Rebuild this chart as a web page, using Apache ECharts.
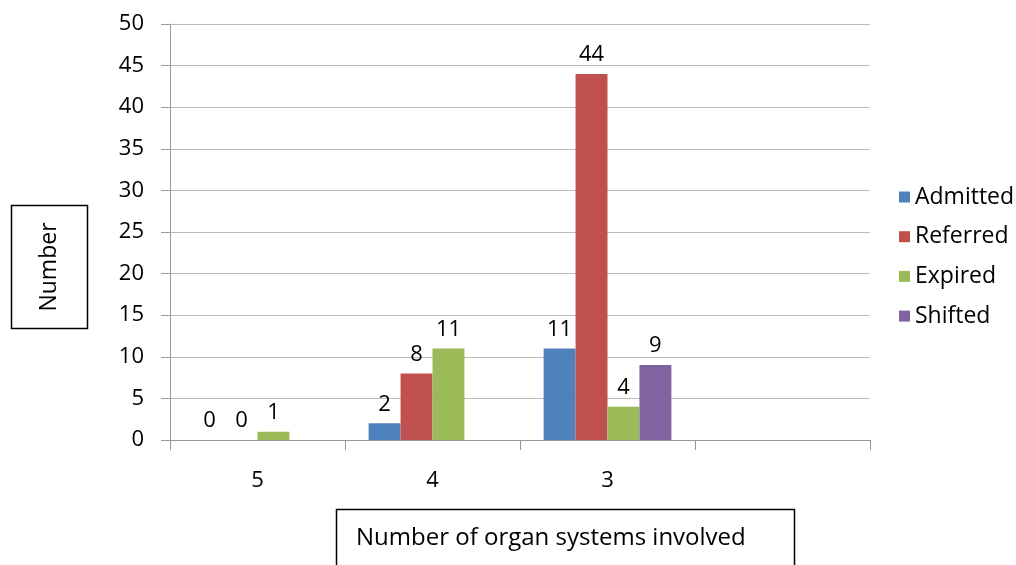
<!DOCTYPE html>
<html><head><meta charset="utf-8">
<script src="https://cdn.jsdelivr.net/npm/echarts@6/dist/echarts.min.js"></script>
<style>html,body{margin:0;padding:0;background:#fff}#c{width:1016px;height:565px}</style>
</head><body><div id="c"></div>
<script>
const categories = ['5', '4', '3', ''];
const admitted = [0, 2, 11, null];
const referred = [0, 8, 44, null];
const expired = [1, 11, 4, null];
const shifted = [null, null, 9, null];
const seriesNames = ['Admitted', 'Referred', 'Expired', 'Shifted'];
const colors = ['#4F81BD', '#C0504D', '#9BBB59', '#8064A2'];
const yTitle = 'Number';
const xTitle = 'Number of organ systems involved';

const FONT = '"Open Sans", "Noto Sans", sans-serif';
const FS = 22;
const chart = echarts.init(document.getElementById('c'));
const dataSets = [admitted, referred, expired, shifted];
chart.setOption({
  animation: false,
  backgroundColor: '#fff',
  color: colors,
  grid: { left: 170, right: 146, top: 24, bottom: 125 },
  legend: {
    orient: 'vertical', left: 894, top: 180,
    itemWidth: 11, itemHeight: 11, itemGap: 15.7, icon: 'rect',
    textStyle: { fontFamily: FONT, fontSize: 23, lineHeight: 24, color: '#000' },
    data: seriesNames
  },
  xAxis: {
    type: 'category', data: categories,
    axisLine: { lineStyle: { color: '#999', width: 1 } },
    axisTick: { show: true, length: 10, lineStyle: { color: '#999' } },
    axisLabel: { margin: 30, fontFamily: FONT, fontSize: FS, color: '#000' }
  },
  yAxis: {
    type: 'value', min: 0, max: 50, interval: 5,
    axisLine: { show: true, lineStyle: { color: '#999' } },
    axisTick: { show: true, length: 9, lineStyle: { color: '#999' } },
    axisLabel: { margin: 26, fontFamily: FONT, fontSize: FS, color: '#000' },
    splitLine: { lineStyle: { color: '#bbb', width: 1 } }
  },
  series: dataSets.map((d, i) => ({
    name: seriesNames[i], type: 'bar', data: d,
    barGap: '0%', barCategoryGap: '27%',
    label: { show: true, position: 'top', distance: 8, fontFamily: FONT, fontSize: FS, color: '#000' }
  })),
  graphic: [
    { type: 'rect', shape: { x: 11.5, y: 205.5, width: 76, height: 123 },
      style: { fill: 'none', stroke: '#000', lineWidth: 1.5 } },
    { type: 'text', x: 49, y: 267, rotation: Math.PI / 2,
      style: { text: yTitle, fontFamily: FONT, fontSize: 23, fill: '#000', align: 'center', verticalAlign: 'middle' } },
    { type: 'rect', shape: { x: 336.5, y: 509.5, width: 458, height: 70 },
      style: { fill: 'none', stroke: '#000', lineWidth: 1.5 } },
    { type: 'text', x: 356, y: 538,
      style: { text: xTitle, fontFamily: FONT, fontSize: 24, fill: '#000', align: 'left', verticalAlign: 'middle' } }
  ]
});
</script></body></html>
